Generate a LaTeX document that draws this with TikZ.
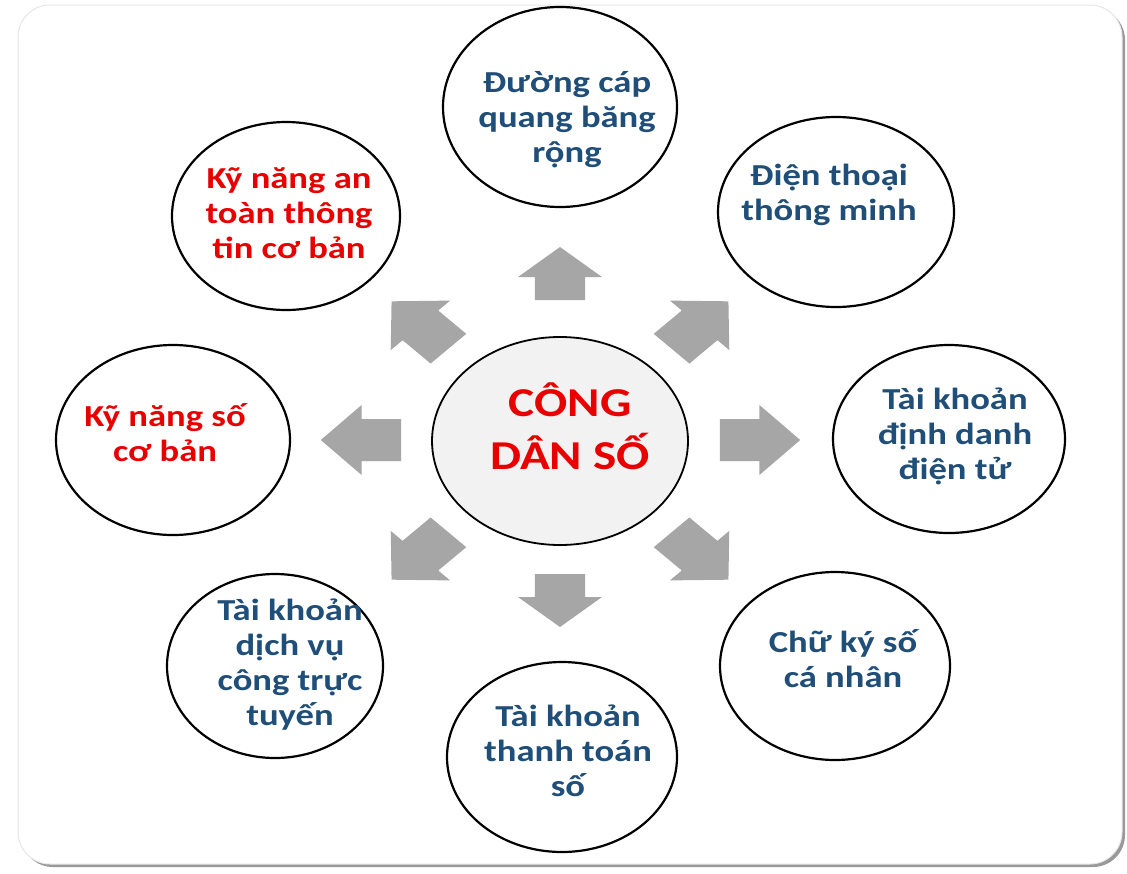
\documentclass[tikz,border=0pt]{standalone}
\usepackage{fontspec}
\setmainfont{Carlito}
\usetikzlibrary{shapes.geometric}
\definecolor{txtblue}{RGB}{31,78,121}
\definecolor{txtred}{RGB}{232,0,0}
\definecolor{arrgrey}{RGB}{166,166,166}
\definecolor{centfill}{RGB}{242,242,242}
\newcommand\blockarrow[5]{%
  \begin{scope}[shift={(#1,#2)},xscale=1.2,rotate=#3]
    \fill[arrgrey] (-#4/2,-21) -- (#4/2-#5,-21) -- (#4/2-#5,-35) -- (#4/2,0)
      -- (#4/2-#5,35) -- (#4/2-#5,21) -- (-#4/2,21) -- cycle;
  \end{scope}}
\begin{document}
\begin{tikzpicture}[x=1pt,y=-1pt,
  ell/.style={ellipse, draw=black, line width=2.2pt, fill=white, inner sep=0pt},
  cell/.style={ellipse, draw=black, line width=1.8pt, fill=centfill, inner sep=0pt},
  txt/.style={align=center, inner sep=0pt, xscale=1.2, font=\bfseries\fontsize{30.5}{35}\selectfont},
  bluetxt/.style={txt, text=txtblue},
  redtxt/.style={txt, text=txtred},
  bigtxt/.style={align=center, inner sep=0pt, xscale=1.2, text=txtred, font=\bfseries\fontsize{41}{53}\selectfont}]
\useasboundingbox (0,0) rectangle (1127,873);
% frame
\fill[black!40, rounded corners=32pt] (21,8) rectangle (1125,867);
\draw[black!10, fill=white, line width=1pt, rounded corners=32pt] (18,5) rectangle (1122,864);

% arrows
\blockarrow{560}{273.5}{90}{53}{30}
\blockarrow{560}{600.5}{-90}{53}{30}
\blockarrow{760}{440}{0}{67}{34}
\blockarrow{361}{440}{180}{67}{34}
\blockarrow{700}{325}{45}{67}{34}
\blockarrow{420}{325}{135}{67}{34}
\blockarrow{420}{556}{225}{67}{34}
\blockarrow{700}{556}{-45}{67}{34}

% ellipses
\node[cell, minimum width=256pt, minimum height=208pt] (c) at (560,441) {};
\node[ell, minimum width=234pt, minimum height=200pt] (e1) at (560,107) {};
\node[ell, minimum width=236pt, minimum height=190pt] (e2) at (836,212) {};
\node[ell, minimum width=232pt, minimum height=188pt] (e3) at (949,439) {};
\node[ell, minimum width=230pt, minimum height=188pt] (e4) at (835,666) {};
\node[ell, minimum width=230pt, minimum height=190pt] (e5) at (562,757) {};
\node[ell, minimum width=216pt, minimum height=184pt] (e6) at (275,666) {};
\node[ell, minimum width=234pt, minimum height=190pt] (e7) at (173,440) {};
\node[ell, minimum width=228pt, minimum height=188pt] (e8) at (286,216) {};

% texts
\node[bigtxt] (tc) at (570,426) {CÔNG\\DÂN SỐ};
\node[bluetxt] (t1) at (567,120) {Đường cáp\\quang băng\\rộng};
\node[bluetxt] (t2) at (829,195) {Điện thoại\\thông minh};
\node[bluetxt] (t3) at (955,436) {Tài khoản\\định danh\\điện tử};
\node[bluetxt] (t4) at (843,659) {Chữ ký số\\cá nhân};
\node[bluetxt] (t5) at (568,751) {Tài khoản\\thanh toán\\số};
\node[bluetxt] (t6) at (290,665) {Tài khoản\\dịch vụ\\công trực\\tuyến};
\node[redtxt] (t7) at (165,433) {Kỹ năng số\\cơ bản};
\node[redtxt] (t8) at (289,213) {Kỹ năng an\\toàn thông\\tin cơ bản};
\end{tikzpicture}
\end{document}
